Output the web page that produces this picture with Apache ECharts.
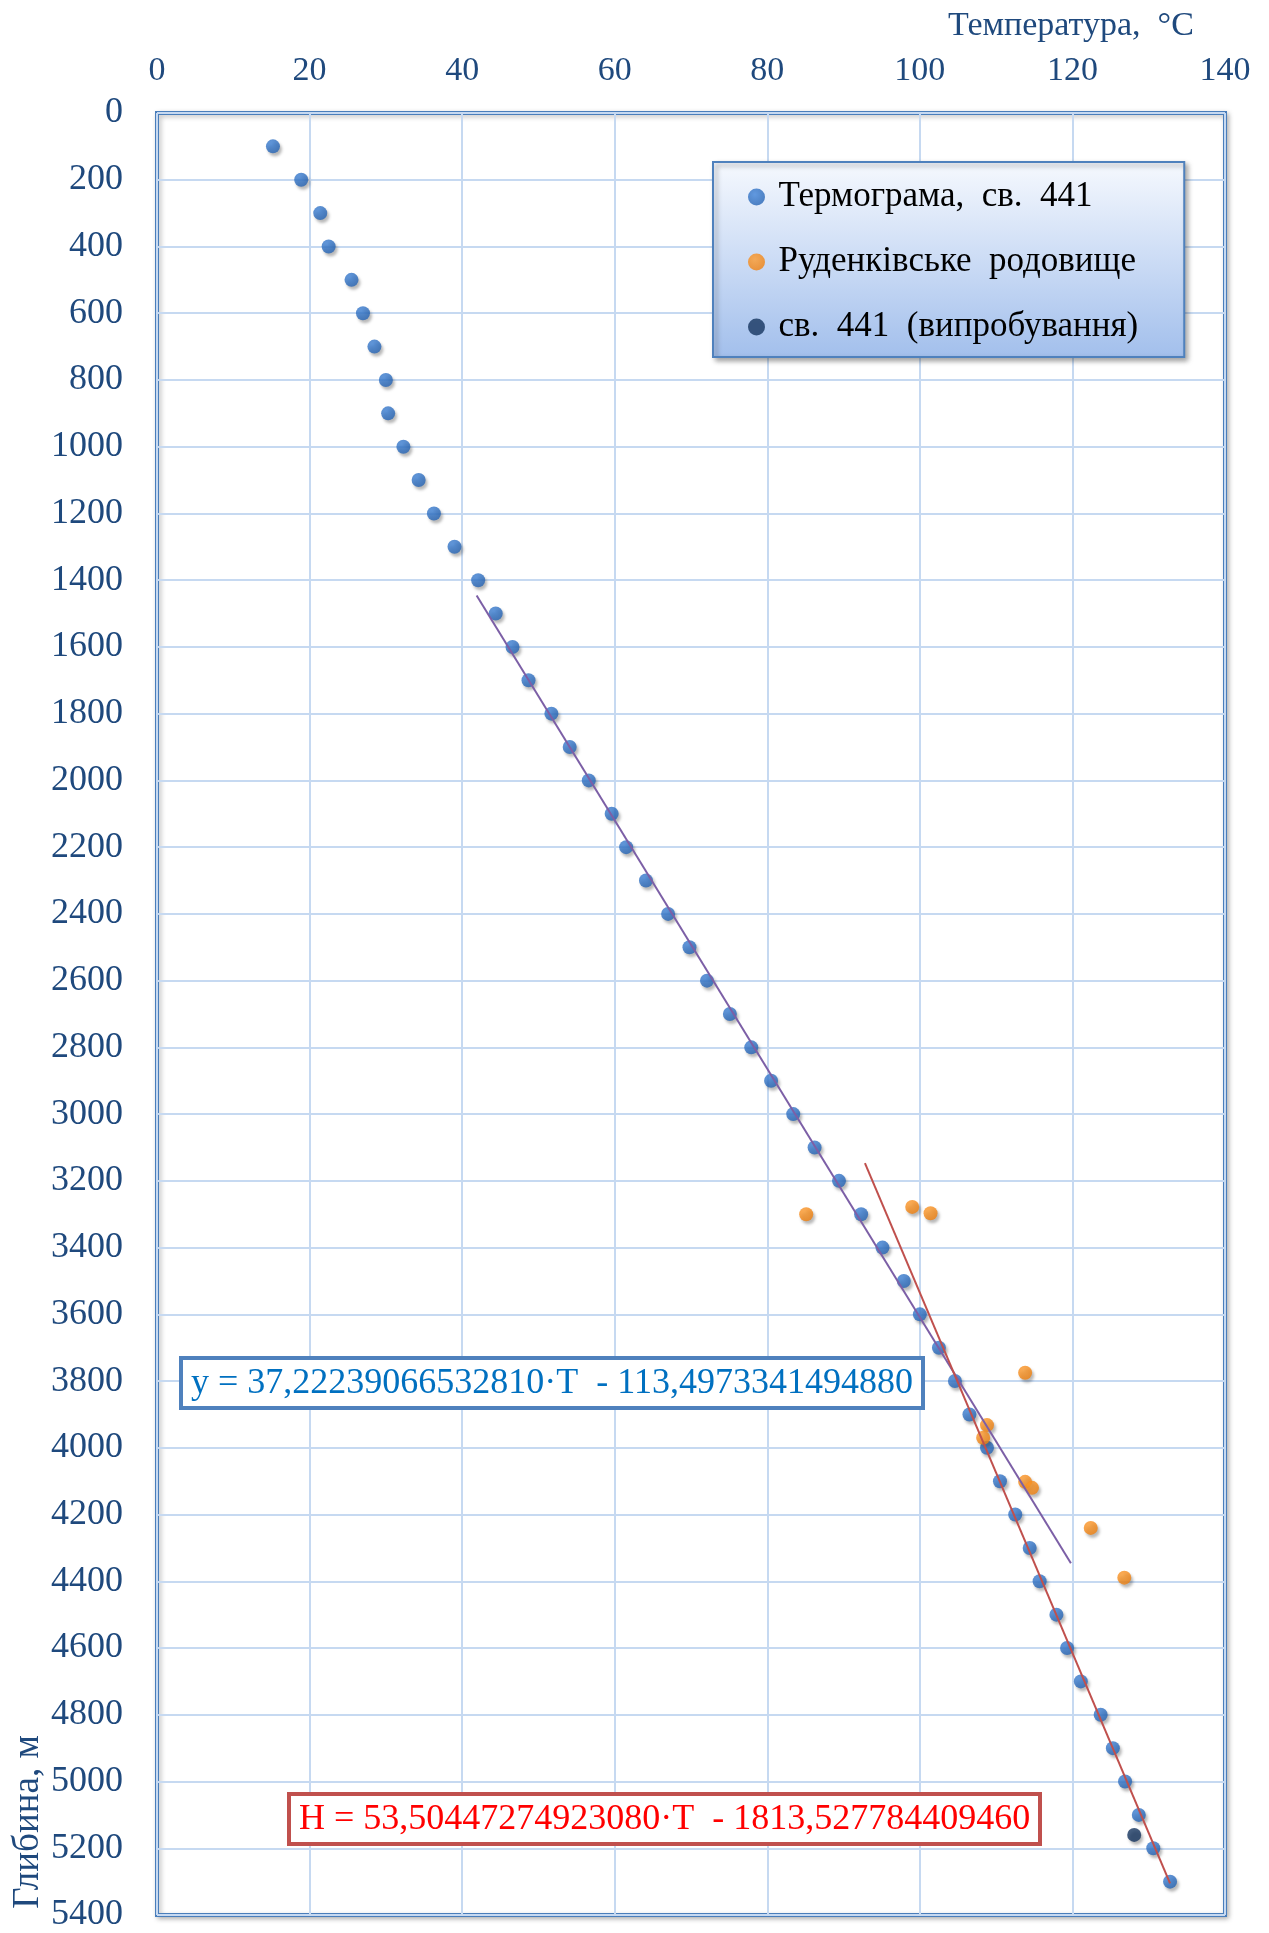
<!DOCTYPE html>
<html>
<head>
<meta charset="utf-8">
<script src="https://cdn.jsdelivr.net/npm/echarts@6/dist/echarts.min.js"></script>
<style>
html,body{margin:0;padding:0;background:#fff;}
#chart{width:1269px;height:1933px;}
</style>
</head>
<body>
<div id="chart"></div>
<script>
// ---- data ----
const xTicks = [0, 20, 40, 60, 80, 100, 120, 140];
const yTicks = [0, 200, 400, 600, 800, 1000, 1200, 1400, 1600, 1800, 2000, 2200, 2400, 2600, 2800, 3000, 3200, 3400, 3600, 3800, 4000, 4200, 4400, 4600, 4800, 5000, 5200, 5400];

const thermoDepth = [100, 200, 300, 400, 500, 600, 700, 800, 900, 1000,
  1100, 1200, 1300, 1400, 1500, 1600, 1700, 1800, 1900, 2000,
  2100, 2200, 2300, 2400, 2500, 2600, 2700, 2800, 2900, 3000,
  3100, 3200, 3300, 3400, 3500, 3600, 3700, 3800, 3900, 4000,
  4100, 4200, 4300, 4400, 4500, 4600, 4700, 4800, 4900, 5000,
  5100, 5200, 5300];
const thermoTemp = [15.2, 18.9, 21.4, 22.5, 25.5, 27.0, 28.5, 30.0, 30.3, 32.3,
  34.3, 36.3, 39.0, 42.1, 44.4, 46.6, 48.7, 51.7, 54.1, 56.6,
  59.6, 61.5, 64.1, 67.0, 69.8, 72.1, 75.1, 77.9, 80.5, 83.4,
  86.2, 89.4, 92.3, 95.1, 97.9, 100.0, 102.5, 104.6, 106.5, 108.8,
  110.5, 112.5, 114.4, 115.7, 117.9, 119.3, 121.1, 123.7, 125.3, 126.9,
  128.7, 130.6, 132.8];

const rudTemp = [85.1, 99.0, 101.4, 113.8, 108.8, 108.3, 113.8, 114.7, 122.4, 126.8];
const rudDepth = [3300, 3278, 3297, 3775, 3932, 3970, 4102, 4120, 4240, 4389];

const testTemp = [128.1];
const testDepth = [5160];

const trend1Temp = [41.9, 119.8];
const trend1Depth = [1446, 4346];
const trend2Temp = [92.8, 132.8];
const trend2Depth = [3147, 5305];

const seriesNames = ['Термограма,  св.  441', 'Руденківське  родовище', 'св.  441  (випробування)'];
const eq1 = 'y = 37,22239066532810·T  - 113,4973341494880';
const eq2 = 'H = 53,50447274923080·T  - 1813,527784409460';
const xTitle = 'Температура,  °C';
const yTitle = 'Глибина, м';

// ---- build ----
const pairs = (xs, ys) => xs.map((x, i) => [x, ys[i]]);
const SERIF = '"Liberation Serif", "Times New Roman", serif';
const axisColor = '#1f497d';
const dotShadow = {shadowBlur: 3, shadowOffsetX: 2, shadowOffsetY: 3, shadowColor: 'rgba(0,0,0,0.35)'};

const chart = echarts.init(document.getElementById('chart'));
chart.setOption({
  backgroundColor: '#ffffff',
  animation: false,
  grid: {
    left: 157, top: 113, right: 44, bottom: 16,
    show: true, backgroundColor: '#ffffff',
    borderColor: '#4a7ebb', borderWidth: 4,
    shadowColor: 'rgba(0,0,0,0.25)', shadowBlur: 5, shadowOffsetX: 2, shadowOffsetY: 2
  },
  title: [
    {
      text: eq1, left: 181, top: 1358, padding: [6, 10, 4, 10],
      borderColor: '#4f81bd', borderWidth: 4, backgroundColor: '#ffffff',
      textStyle: {fontFamily: SERIF, fontSize: 36, fontWeight: 'normal', color: '#0070c0', lineHeight: 40}
    },
    {
      text: eq2, left: 289, top: 1794, padding: [6, 10, 4, 10],
      borderColor: '#c0504d', borderWidth: 4, backgroundColor: '#ffffff',
      textStyle: {fontFamily: SERIF, fontSize: 36, fontWeight: 'normal', color: '#ff0000', lineHeight: 40}
    }
  ],
  legend: {
    data: seriesNames,
    orient: 'vertical',
    left: 713, top: 162,
    padding: [15, 46, 10, 35],
    itemWidth: 34, itemHeight: 17, itemGap: 25,
    icon: 'circle',
    textStyle: {fontFamily: SERIF, fontSize: 35, color: '#000000', lineHeight: 40},
    borderColor: '#4f81bd', borderWidth: 2,
    backgroundColor: {
      type: 'linear', x: 0, y: 0, x2: 0, y2: 1,
      colorStops: [{offset: 0, color: '#f6f9fe'}, {offset: 1, color: '#a2bfec'}]
    },
    shadowColor: 'rgba(0,0,0,0.35)', shadowBlur: 5, shadowOffsetX: 3, shadowOffsetY: 3
  },
  xAxis: {
    type: 'value', position: 'top',
    min: xTicks[0], max: xTicks[xTicks.length - 1], interval: 20,
    axisLine: {show: false}, axisTick: {show: false},
    axisLabel: {margin: 25, fontFamily: SERIF, fontSize: 34, color: axisColor, formatter: v => String(v)},
    splitLine: {show: true, lineStyle: {color: '#c6d9f1', width: 2}}
  },
  yAxis: {
    type: 'value', inverse: true,
    min: yTicks[0], max: yTicks[yTicks.length - 1], interval: 200,
    axisLine: {show: false}, axisTick: {show: false},
    axisLabel: {margin: 34, fontFamily: SERIF, fontSize: 36, color: axisColor, formatter: v => String(v)},
    splitLine: {show: true, lineStyle: {color: '#c6d9f1', width: 2}}
  },
  graphic: [
    {
      type: 'text', left: 948, top: 9,
      style: {text: xTitle, font: '34px ' + SERIF, fill: axisColor}
    },
    {
      type: 'text', x: 28, y: 1822, rotation: Math.PI / 2,
      style: {text: yTitle, font: '37px ' + SERIF, fill: axisColor, align: 'center', verticalAlign: 'middle'}
    }
  ],
  series: [
    {
      name: seriesNames[0], type: 'scatter', symbol: 'circle', symbolSize: 14,
      data: pairs(thermoTemp, thermoDepth),
      itemStyle: Object.assign({
        color: {type: 'radial', x: 0.4, y: 0.35, r: 0.7,
          colorStops: [{offset: 0, color: '#3f83d8'}, {offset: 1, color: '#2462b2'}]}
      }, dotShadow)
    },
    {
      name: seriesNames[1], type: 'scatter', symbol: 'circle', symbolSize: 14,
      data: pairs(rudTemp, rudDepth),
      itemStyle: Object.assign({
        color: {type: 'radial', x: 0.4, y: 0.35, r: 0.7,
          colorStops: [{offset: 0, color: '#fd9c30'}, {offset: 1, color: '#f07f0c'}]}
      }, dotShadow)
    },
    {
      name: seriesNames[2], type: 'scatter', symbol: 'circle', symbolSize: 14,
      data: pairs(testTemp, testDepth),
      itemStyle: Object.assign({color: '#15355f'}, dotShadow)
    },
    {
      name: 'trend1', type: 'line', symbol: 'none', silent: true,
      data: pairs(trend1Temp, trend1Depth),
      lineStyle: {color: '#7c5fa6', width: 2}
    },
    {
      name: 'trend2', type: 'line', symbol: 'none', silent: true,
      data: pairs(trend2Temp, trend2Depth),
      lineStyle: {color: '#c0504d', width: 2}
    }
  ]
});
</script>
</body>
</html>
